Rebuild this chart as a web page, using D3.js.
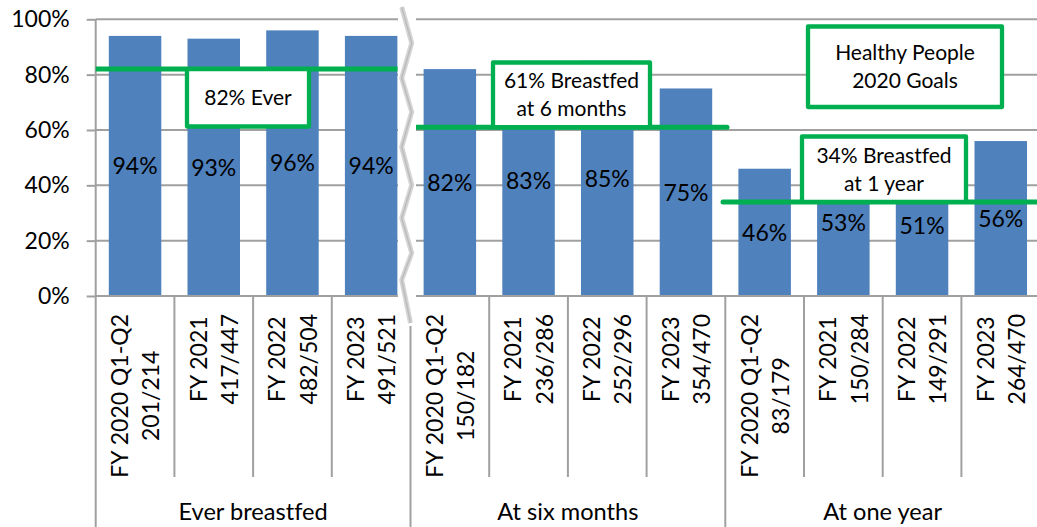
<!DOCTYPE html>
<html>
<head>
<meta charset="utf-8">
<script src="https://cdn.jsdelivr.net/npm/d3@7"></script>
<style>
  html, body { margin: 0; padding: 0; background: #fff; }
  svg { display: block; }
  text { font-family: Lato, "Open Sans", sans-serif; fill: #000; font-variant-ligatures: none; }
</style>
</head>
<body>
<svg id="chart" width="1037" height="527"></svg>
<script>
// Breastfeeding rates by period, grouped by milestone
const groups  = ["Ever breastfed", "At six months", "At one year"];
const periods = ["FY 2020 Q1-Q2", "FY 2021", "FY 2022", "FY 2023"];
const counts  = ["201/214", "417/447", "482/504", "491/521",
                 "150/182", "236/286", "252/296", "354/470",
                 "83/179",  "150/284", "149/291", "264/470"];
const rates   = [94, 93, 96, 94, 82, 83, 85, 75, 46, 53, 51, 56];

// Healthy People 2020 targets, one per milestone
const goalValues = [82, 61, 34];
const goalLabels = [["82% Ever"], ["61% Breastfed", "at 6 months"], ["34% Breastfed", "at 1 year"]];
const yTicks = [0, 20, 40, 60, 80, 100];

const W = 1037, H = 527;
const left = 95.7, axisY = 296, topY = 19.3;
const BLUE = "#4F81BD", GREEN = "#00B050", GRID = "#a0a0a0";
const FS = 23, FS_BOX = 21;

const svg = d3.select("#chart");

const cats = counts.map((c, i) => ({
  key: i, group: Math.floor(i / periods.length),
  period: periods[i % periods.length], count: c, value: rates[i]
}));

const x = d3.scaleBand()
  .domain(cats.map(d => d.key))
  .range([left, left + 12 * 78.7])
  .paddingInner(0.333)
  .paddingOuter(0.1665);
const step = x.step();
const y = d3.scaleLinear().domain([0, 100]).range([axisY, topY]);

// horizontal gridlines
svg.append("g").selectAll("line").data(yTicks).join("line")
  .attr("x1", left).attr("x2", W)
  .attr("y1", d => y(d)).attr("y2", d => y(d))
  .attr("stroke", GRID).attr("stroke-width", 2);

// value axis
const yAxis = svg.append("g")
  .attr("transform", `translate(${left},0)`)
  .call(d3.axisLeft(y).tickValues(yTicks).tickFormat(d => d + "%")
        .tickSize(9).tickPadding(17));
yAxis.select(".domain").remove();
yAxis.selectAll(".tick line").attr("stroke", GRID).attr("stroke-width", 2);
yAxis.selectAll(".tick text").attr("font-size", FS).attr("font-family", "Lato").attr("fill", "#000");

// bars
svg.append("g").selectAll("rect").data(cats).join("rect")
  .attr("x", d => x(d.key)).attr("width", x.bandwidth())
  .attr("y", d => y(d.value)).attr("height", d => y(0) - y(d.value))
  .attr("fill", BLUE);

// value labels centred in each bar
svg.append("g").selectAll("text").data(cats).join("text")
  .attr("x", d => x(d.key) + x.bandwidth() / 2)
  .attr("y", d => (y(d.value) + y(0)) / 2)
  .attr("dy", "0.36em")
  .attr("text-anchor", "middle")
  .attr("font-size", FS)
  .text(d => d.value + "%");

// category axis: baseline, left line, ticks, group separators
const ax = svg.append("g").attr("stroke", GRID).attr("stroke-width", 2);
ax.append("line").attr("x1", left).attr("x2", W).attr("y1", axisY).attr("y2", axisY);
ax.append("line").attr("x1", left).attr("x2", left).attr("y1", topY).attr("y2", H);
cats.forEach((d, i) => {
  if (i === 0) return;
  const bx = x(d.key) - step * x.paddingInner() / 2;
  const sep = i % periods.length === 0;
  ax.append("line").attr("x1", bx).attr("x2", bx)
    .attr("y1", axisY).attr("y2", sep ? H : 477);
});

// rotated two-line category labels
const labelTop = 314, lineGap = 31.3;
const cl = svg.append("g").selectAll("g").data(cats).join("g")
  .attr("transform", d => `translate(${x(d.key) + x.bandwidth() / 2},${labelTop}) rotate(-90)`);
cl.each(function (d) {
  const g = d3.select(this);
  const t1 = g.append("text").attr("font-size", FS).attr("text-anchor", "middle").text(d.period);
  const t2 = g.append("text").attr("font-size", FS).attr("text-anchor", "middle").text(d.count);
  const L = Math.max(t1.node().getComputedTextLength(), t2.node().getComputedTextLength());
  t1.attr("x", -L / 2).attr("y", -7.1);
  t2.attr("x", -L / 2).attr("y", -7.1 + lineGap);
});

// group labels
svg.append("g").selectAll("text").data(groups).join("text")
  .attr("x", (g, i) => left + step * periods.length * (i + 0.5))
  .attr("y", 520)
  .attr("text-anchor", "middle")
  .attr("font-size", FS + 0.6)
  .text(g => g);

// goal lines per group
const goalSpans = [[left, 397.5], [416, 727], [723, W + 5]];
svg.append("g").selectAll("line").data(goalValues).join("line")
  .attr("x1", (v, i) => goalSpans[i][0]).attr("x2", (v, i) => goalSpans[i][1])
  .attr("y1", v => y(v)).attr("y2", v => y(v))
  .attr("stroke", GREEN).attr("stroke-width", 5)
  .attr("stroke-linecap", (v, i) => i === 0 ? "butt" : "round");

// scale break between first and second group
svg.append("rect").attr("x", 398).attr("y", 0).attr("width", 18).attr("height", 326).attr("fill", "#fff");
const zig = [[401.7, 7], [411.7, 43], [401.7, 78], [411.7, 112], [401.7, 147],
             [411.7, 185], [401.7, 218], [411.7, 253], [401.7, 280], [410.5, 323]];
svg.append("path").attr("d", d3.line()(zig)).attr("fill", "none")
  .attr("stroke", "#d6d6d6").attr("stroke-width", 5).attr("stroke-linejoin", "round");
svg.append("path").attr("d", d3.line()(zig)).attr("fill", "none")
  .attr("stroke", "#bdbdbd").attr("stroke-width", 1.6).attr("stroke-linejoin", "round");

// annotation boxes
function box(x0, y0, x1, y1, lines, fs, gap) {
  svg.append("rect").attr("x", x0).attr("y", y0).attr("width", x1 - x0).attr("height", y1 - y0)
    .attr("fill", "#fff").attr("stroke", GREEN).attr("stroke-width", 4.3)
    .attr("stroke-linejoin", "round");
  const cy = (y0 + y1) / 2;
  lines.forEach((s, i) => {
    svg.append("text").attr("x", (x0 + x1) / 2)
      .attr("y", cy + (i - (lines.length - 1) / 2) * gap)
      .attr("dy", "0.36em").attr("text-anchor", "middle")
      .attr("font-size", fs).text(s);
  });
}
box(187, y(goalValues[0]), 309, 126.5, goalLabels[0], FS_BOX, 28);
box(493, 62.5, 650, y(goalValues[1]), goalLabels[1], FS_BOX, 28);
box(802, 136.5, 966, y(goalValues[2]), goalLabels[2], FS_BOX, 28);
box(808, 26.5, 1002, 107, ["Healthy People", "2020 Goals"], FS_BOX, 28);
</script>
</body>
</html>
